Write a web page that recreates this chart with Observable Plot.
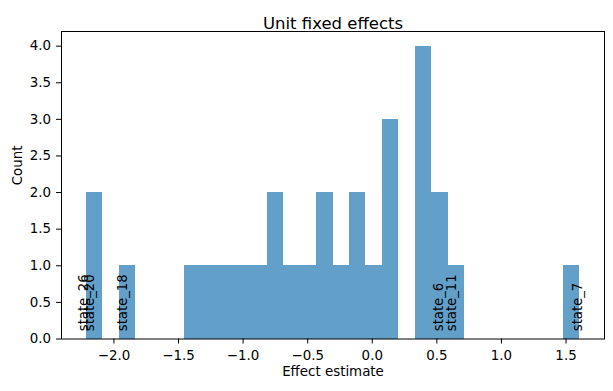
<!DOCTYPE html>
<html><head><meta charset="utf-8">
<script src="https://cdn.jsdelivr.net/npm/d3@7"></script>
<script src="https://cdn.jsdelivr.net/npm/@observablehq/plot@0.6"></script>
<style>body{margin:0;background:#fff} svg{display:block}</style>
</head><body><div id="chart"></div>
<script>
const title = "Unit fixed effects";
const xLabel = "Effect estimate";
const yLabel = "Count";
const binEdges = [-2.215, -2.0876, -1.9602, -1.8328, -1.7054, -1.578, -1.4506, -1.3232, -1.1958, -1.0684,
  -0.941, -0.8136, -0.6862, -0.5588, -0.4314, -0.304, -0.1766, -0.0492, 0.0782, 0.2056,
  0.333, 0.4604, 0.5878, 0.7152, 0.8426, 0.97, 1.0974, 1.2248, 1.3522, 1.4796, 1.607];
const counts = [2, 0, 1, 0, 0, 0, 1, 1, 1, 1, 1, 2, 1, 1, 2, 1, 2, 1, 3, 0, 4, 2, 1, 0, 0, 0, 0, 0, 0, 1];
const labelNames = ["state_26", "state_20", "state_18", "state_6", "state_11", "state_7"];
const labelValues = [-2.222, -2.179, -1.922, 0.526, 0.626, 1.602];
const xTicks = [-2, -1.5, -1, -0.5, 0, 0.5, 1, 1.5];
const yTicks = [0, 0.5, 1, 1.5, 2, 2.5, 3, 3.5, 4];

const bins = counts.map((c, i) => ({x1: binEdges[i], x2: binEdges[i + 1], count: c}));
const labels = labelNames.map((n, i) => ({name: n, x: labelValues[i]}));
const fmt = d3.format(".1f");

const chart = Plot.plot({
  width: 613, height: 391,
  marginTop: 31, marginBottom: 52.5, marginLeft: 61, marginRight: 9,
  style: {fontFamily: "DejaVu Sans", fontSize: "13.4px", color: "black", background: "white"},
  x: {domain: [-2.406, 1.798]},
  y: {domain: [0, 4.2]},
  marks: [
    Plot.rect(bins, {x1: "x1", x2: "x2", y1: () => 0, y2: "count", fill: "#62a0ca", shapeRendering: "crispEdges"}),
    Plot.text(labels, {x: "x", text: "name", frameAnchor: "bottom", dx: 3.2, dy: -7.8, rotate: -90, textAnchor: "start", fill: "black", fontSize: 13.2}),
    Plot.frame({stroke: "black", strokeWidth: 1}),
    Plot.axisX({ticks: xTicks, tickFormat: fmt, tickSize: 5, tickPadding: 6, label: null, fontSize: 13.4}),
    Plot.axisY({ticks: yTicks, tickFormat: fmt, tickSize: 5, tickPadding: 5.5, label: null, fontSize: 13.4}),
    Plot.text([title], {frameAnchor: "top", dy: -14.6, fontSize: 16.5}),
    Plot.text([xLabel], {frameAnchor: "bottom", dy: 36.5, fontSize: 13.4}),
    Plot.text([yLabel], {frameAnchor: "left", dx: -44.2, rotate: -90, fontSize: 13.4})
  ]
});
document.getElementById("chart").appendChild(chart);
</script>
</body></html>
